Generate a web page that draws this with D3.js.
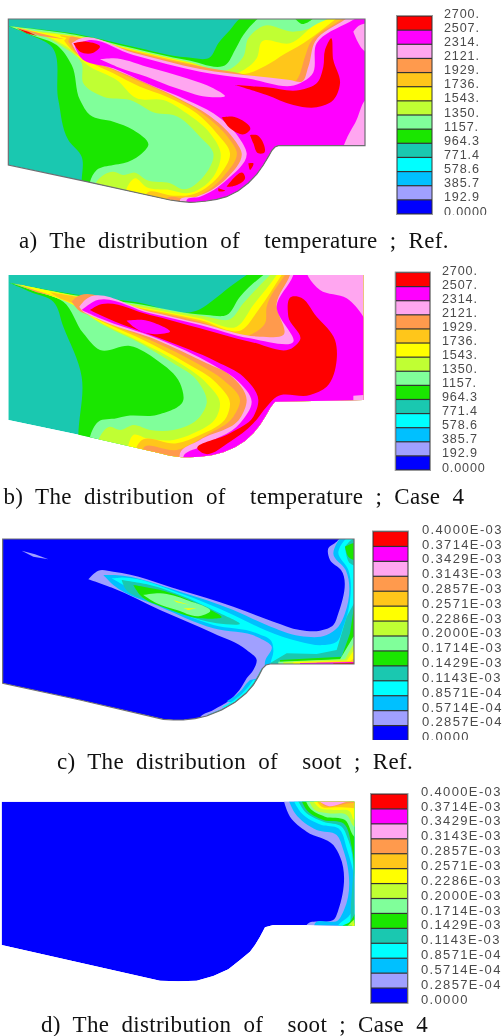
<!DOCTYPE html>
<html><head><meta charset="utf-8">
<script src="https://cdn.jsdelivr.net/npm/d3@7/dist/d3.min.js"></script>
<style>html,body{margin:0;padding:0;background:#fff;overflow:hidden}svg{display:block;filter:blur(0.45px)}</style>
</head><body><div id="chart"></div>
<script>
const levelColors = ["#ff0000","#ff00ff","#ffa6f0","#ff9a4d","#ffc61a","#ffff00","#c0ff33","#80ff9a","#1ae600","#1ac8b0","#00ffff","#00c0ff","#a0a0ff","#0000ff"];
const [RED,MAG,PINK,ORG,GOLD,YEL,LIME,LGRN,GRN,TEAL,CYAN,SKY,PERI,BLUE] = d3.range(14);

const tempLabels = ["2700.","2507.","2314.","2121.","1929.","1736.","1543.","1350.","1157.","964.3","771.4","578.6","385.7","192.9","0.0000"];
const sootLabels = ["0.4000E-03","0.3714E-03","0.3429E-03","0.3143E-03","0.2857E-03","0.2571E-03","0.2286E-03","0.2000E-03","0.1714E-03","0.1429E-03","0.1143E-03","0.8571E-04","0.5714E-04","0.2857E-04","0.0000"];
const captions = [
  "a)  The  distribution  of    temperature  ;  Ref.",
  "b)  The  distribution  of    temperature  ;  Case  4",
  "c)  The  distribution  of    soot  ;  Ref.",
  "d)  The  distribution  of    soot  ;  Case  4"];

// Field coordinates of each panel's domain and iso-bands, hottest bands painted last.
// The first point of a band is a sharp tip; a third element `true` marks a straight-edged strip.
const outlineA = [[25,57],[1095,57],[1095,437],[835,437],[825,441],[815,452],[805,470],[790,495],[770,523],[745,549],[715,572],[680,590],[650,598],[620,603],[590,606],[570,607],[540,604],[510,600],[260,545],[25,495]];
const bandsA = [
 [GRN,[[25,79],[240,104],[400,140],[560,172],[630,172],[655,130],[690,90],[720,55],[740,40],[1200,20],[1200,520],[600,700],[240,600],[245,540],[245,470],[205,420],[175,300],[150,135],[90,105]]],
 [LGRN,[[28,79],[240,107],[400,145],[560,180],[680,192],[705,150],[730,105],[775,55],[795,40],[1200,20],[1200,520],[600,700],[270,600],[270,545],[290,510],[340,495],[370,490],[420,465],[445,435],[400,390],[340,365],[270,345],[240,300],[215,195],[170,135],[100,107]]],
 [GRN,[[880,50],[905,72],[945,50]]],
 [LIME,[[100,92],[240,109],[400,148],[560,184],[695,205],[730,170],[745,115],[790,78],[880,95],[960,72],[990,50],[1010,40],[1200,20],[1200,520],[600,700],[285,600],[288,548],[340,515],[370,525],[405,518],[440,540],[510,550],[550,568],[610,530],[640,460],[600,410],[520,345],[470,340],[390,300],[310,290],[250,250],[245,190],[180,135]]],
 [YEL,[[120,98],[240,111],[400,150],[560,186],[720,216],[770,175],[785,125],[870,130],[945,75],[1000,50],[1020,40],[1200,20],[1200,520],[600,700],[375,600],[380,565],[405,535],[440,562],[510,570],[560,580],[640,530],[662,460],[630,400],[560,340],[490,300],[410,295],[350,240],[270,200],[200,140]]],
 [GOLD,[[180,105],[240,113],[400,152],[560,188],[745,220],[810,190],[840,170],[910,130],[1010,55],[1030,40],[1200,20],[1200,520],[600,700],[430,610],[440,580],[520,587],[570,585],[655,530],[690,460],[650,400],[590,340],[500,290],[420,260],[340,220],[215,150]]],
 [ORG,[[205,125],[210,112],[240,115],[400,155],[560,192],[700,216],[890,240],[915,170],[930,130],[1030,55],[1050,40],[1200,20],[1200,520],[600,700],[500,620],[500,598],[570,595],[670,530],[710,455],[690,420],[620,350],[540,300],[430,250],[340,210],[230,160]]],
 [PINK,[[215,130],[235,118],[400,158],[600,207],[870,240],[905,245],[925,200],[945,125],[1040,55],[1060,40],[1200,20],[1200,520],[600,700],[540,620],[540,600],[590,590],[680,535],[725,460],[700,415],[625,345],[545,300],[440,250],[340,207],[235,163]]],
 [MAG,[[225,140],[250,125],[400,165],[600,215],[740,235],[900,250],[935,225],[950,130],[1050,65],[1100,40],[1200,20],[1200,520],[700,700],[560,620],[560,600],[600,590],[680,540],[740,460],[715,410],[640,340],[560,300],[440,250],[340,205],[240,170]]],
 [PINK,[[1060,95],[1075,78],[1120,70],[1120,170],[1090,150]]],
 [PINK,[[1030,440],[1045,405],[1065,370],[1100,300],[1130,350],[1120,470]]],
 [PINK,[[300,178],[340,175],[440,200],[560,235],[640,265],[675,288],[620,290],[530,265],[440,230],[350,200]]],
 [RED,[[220,130],[260,125],[300,140],[280,158],[240,155]]],
 [RED,[[705,255],[800,262],[900,270],[950,250],[970,200],[975,150],[993,115],[1000,180],[1020,250],[1000,300],[950,322],[880,315],[800,285]]],
 [RED,[[665,352],[700,350],[750,390],[735,402],[690,385]]],
 [RED,[[750,405],[770,405],[790,460],[775,460],[760,430]]],
 [RED,[[745,490],[760,490],[750,510]]],
 [RED,[[680,560],[730,520],[735,530],[690,560]]],
 [RED,[[655,565],[675,572],[655,572]]],
 [YEL,[[35,79],[120,97],[200,113],[190,125],[120,105]],true],
 [ORG,[[45,82],[120,100],[195,118],[120,108]],true],
 [RED,[[50,85],[85,95],[112,108],[80,100]],true]
];

const outlineB = [[25,45],[1090,45],[1090,420],[825,425],[812,442],[797,468],[780,495],[760,520],[735,543],[705,562],[670,577],[635,586],[600,590],[570,592],[545,592],[510,587],[480,580],[240,525],[25,480]];
const bandsB = [
 [GRN,[[28,68],[240,105],[400,125],[600,148],[640,120],[690,80],[740,45],[760,30],[1200,20],[1200,520],[600,700],[235,600],[235,525],[245,350],[190,200],[160,125],[90,95]]],
 [LGRN,[[32,69],[240,108],[400,130],[620,165],[680,165],[720,110],[790,45],[810,30],[1200,20],[1200,520],[600,700],[270,600],[270,530],[295,485],[350,475],[380,468],[470,465],[550,420],[540,370],[470,300],[390,258],[300,270],[250,220],[190,125],[100,92]]],
 [LIME,[[45,71],[240,110],[400,133],[620,170],[690,178],[730,130],[810,45],[825,30],[1200,20],[1200,520],[600,700],[295,600],[295,540],[330,500],[360,510],[400,495],[450,510],[520,510],[600,470],[620,430],[590,360],[520,310],[430,255],[300,190],[210,130],[120,97]]],
 [YEL,[[55,73],[240,111],[400,138],[600,175],[710,200],[760,135],[830,45],[840,30],[1200,20],[1200,520],[600,700],[380,600],[385,555],[400,525],[440,535],[520,540],[580,520],[650,470],[660,430],[620,370],[540,310],[420,245],[280,175],[230,140],[130,100]]],
 [GOLD,[[150,97],[240,112],[400,140],[600,180],[725,210],[775,150],[845,45],[855,30],[1200,20],[1200,520],[600,700],[405,600],[410,560],[420,545],[530,550],[600,525],[680,470],[690,430],[650,370],[560,310],[430,240],[280,170],[220,130],[170,110]]],
 [ORG,[[215,125],[225,115],[400,145],[600,185],[750,225],[795,190],[800,140],[855,45],[865,30],[1200,20],[1200,520],[600,700],[430,600],[430,565],[530,570],[620,525],[700,470],[720,420],[670,360],[600,315],[450,240],[280,170],[235,150]]],
 [PINK,[[238,140],[255,120],[450,155],[600,190],[780,230],[850,225],[830,130],[870,45],[875,30],[1200,20],[1200,520],[600,700],[540,610],[540,580],[600,540],[720,475],[740,420],[690,345],[620,310],[470,240],[290,175],[245,150]]],
 [MAG,[[245,150],[280,125],[450,160],[600,195],[750,235],[880,245],[830,140],[880,45],[885,30],[915,30],[925,50],[960,90],[1040,115],[1090,170],[1110,210],[1200,200],[1200,520],[600,700],[550,610],[550,590],[600,560],[720,490],[755,425],[710,360],[640,315],[470,235],[300,175]]],
 [PINK,[[1060,407],[1090,405],[1120,405],[1120,430],[1060,425]],true],
 [RED,[[270,150],[290,138],[450,165],[600,205],[750,245],[880,262],[900,240],[865,170],[875,110],[895,110],[950,170],[1005,240],[1010,300],[980,380],[930,405],[830,410],[800,440],[760,490],[690,545],[610,580],[595,570],[690,520],[760,470],[775,420],[730,350],[650,305],[480,235],[300,165]]],
 [MAG,[[380,182],[430,180],[510,215],[440,220],[400,200]]],
 [ORG,[[40,70],[110,92],[170,110],[110,97]],true]
];

const outlineC = [[8,87],[1062,87],[1062,462],[810,462],[798,465],[788,475],[775,500],[760,525],[738,550],[705,577],[665,600],[620,618],[585,626],[550,630],[520,630],[490,628],[240,570],[8,520]];
const bandsC = [
 [PERI,[[65,122],[105,133],[145,148],[100,140]],true],
 [PERI,[[265,208],[295,182],[340,185],[540,240],[700,290],[820,335],[900,360],[960,362],[1000,345],[1015,310],[1023,180],[990,150],[985,115],[1010,95],[1030,75],[1100,60],[1100,500],[830,500],[770,570],[690,625],[600,640],[600,624],[640,600],[690,570],[710,550],[725,530],[740,505],[760,480],[770,450],[740,420],[640,370],[480,300],[340,235]]],
 [SKY,[[310,195],[345,195],[540,245],[700,300],[800,345],[900,378],[980,375],[1015,350],[1035,310],[1037,180],[1000,130],[1010,100],[1030,75],[1100,60],[1100,500],[800,500],[795,455],[815,410],[780,385],[640,355],[480,290],[340,225]]],
 [CYAN,[[335,205],[360,203],[540,250],[700,315],[800,362],[900,395],[970,405],[1010,395],[1030,350],[1045,300],[1045,180],[1015,125],[1030,95],[1062,72],[1100,70],[1100,500],[810,500],[812,458],[820,425],[815,395],[770,370],[640,345],[480,280],[370,225]]],
 [TEAL,[[365,210],[450,225],[540,255],[650,305],[720,342],[650,340],[540,310],[450,275],[375,235]]],
 [TEAL,[[812,458],[860,430],[950,432],[1010,420],[1040,320],[1062,280],[1100,280],[1100,490],[820,490]],true],
 [TEAL,[[1035,110],[1062,85],[1100,90],[1100,170],[1050,160]]],
 [GRN,[[400,225],[500,245],[600,285],[665,322],[600,325],[500,295],[420,255]]],
 [GRN,[[1035,110],[1060,100],[1100,100],[1100,150],[1045,140]]],
 [GRN,[[840,450],[1025,440],[1050,370],[1062,290],[1100,290],[1100,490],[840,480]],true],
 [LGRN,[[430,255],[480,250],[560,270],[630,305],[600,318],[530,300],[470,280]]],
 [YEL,[[520,270],[570,285],[530,277]],true],
 [YEL,[[550,295],[590,295],[565,300]],true],
 [LGRN,[[835,455],[1020,448],[1060,380],[1100,380],[1100,490],[835,480]],true],
 [LIME,[[850,456],[1035,448],[1062,400],[1100,400],[1100,490],[850,480]],true],
 [YEL,[[880,456],[1040,452],[1062,420],[1100,420],[1100,490],[880,480]],true],
 [GOLD,[[950,457],[1050,454],[1070,440],[1100,440],[1100,490],[950,480]],true],
 [MAG,[[900,459],[1062,456],[1100,456],[1100,490],[900,480]],true],
 [RED,[[1000,460],[1062,458],[1100,458],[1100,490],[1000,480]],true],
 [SKY,[[680,574],[705,558],[725,540],[738,522],[750,510],[800,500],[740,590]],true],
 [CYAN,[[665,592],[700,572],[725,552],[745,530],[760,510],[800,520],[740,600]],true],
 [TEAL,[[620,616],[665,597],[705,575],[740,546],[765,512],[785,475],[830,520],[740,610],[640,640]],true]
];

const outlineD = [[5,95],[1063,95],[1063,467],[910,465],[820,465],[795,472],[780,500],[765,525],[750,545],[720,570],[685,598],[640,618],[590,632],[535,634],[480,632],[5,525]];
const bandsD = [
 [PERI,[[848,80],[870,140],[920,185],[1000,225],[1020,260],[1015,420],[1005,445],[920,465],[910,490],[1100,490],[1100,80]]],
 [SKY,[[862,80],[885,130],[950,180],[1010,195],[1030,240],[1032,420],[1015,450],[945,460],[940,490],[1100,490],[1100,80]]],
 [CYAN,[[875,80],[905,130],[965,165],[1015,175],[1040,235],[1045,440],[1015,465],[1005,490],[1100,490],[1100,80]]],
 [TEAL,[[888,80],[915,125],[970,155],[1025,170],[1045,210],[1052,420],[1050,460],[1040,490],[1100,490],[1100,80]]],
 [GRN,[[900,80],[920,120],[970,150],[1030,160],[1055,230],[1063,300],[1060,440],[1050,455],[1025,470],[1020,490],[1100,490],[1100,80]]],
 [LGRN,[[912,80],[930,115],[975,140],[1035,150],[1063,200],[1100,220],[1100,80]]],
 [LIME,[[922,80],[945,120],[985,130],[1040,135],[1063,170],[1100,180],[1100,80]]],
 [YEL,[[932,80],[960,115],[1000,120],[1050,125],[1063,150],[1100,150],[1100,80]]],
 [GOLD,[[942,80],[965,110],[1010,112],[1063,115],[1100,125],[1100,80]]],
 [ORG,[[950,80],[975,108],[1020,105],[1063,100],[1100,125],[1100,80]]],
 [PINK,[[945,85],[985,108],[1035,97],[1063,85],[1063,80]]],
 [LIME,[[1030,480],[1063,448],[1100,440],[1100,490]],true],
 [YEL,[[1045,480],[1063,458],[1100,450],[1100,490]],true]
];

const panels = [
 {outline:outlineA,bands:bandsA,base:TEAL,ox:0,oy:0,framed:true},
 {outline:outlineB,bands:bandsB,base:TEAL,ox:0,oy:260,framed:false},
 {outline:outlineC,bands:bandsC,base:BLUE,ox:0,oy:510,framed:true},
 {outline:outlineD,bands:bandsD,base:BLUE,ox:0,oy:770,framed:false}
];
const legends = [
 {labels:tempLabels,x0:397,x1:432,y0:16,y1:214,tx:444,ty0:13,ty1:211,clip:215,size:12.6,ls:0.85},
 {labels:tempLabels,x0:395.7,x1:430,y0:272.5,y1:470,tx:442,ty0:270,ty1:467,clip:480,size:12.6,ls:0.85},
 {labels:sootLabels,x0:373,x1:408,y0:531.5,y1:740.5,tx:422,ty0:529,ty1:736.5,clip:740,size:13,ls:1.35},
 {labels:sootLabels,x0:371,x1:407.5,y0:794,y1:1003,tx:421,ty0:791,ty1:999,clip:1010,size:13,ls:1.35}
];
const captionPos = [[19,248],[3.5,504],[57,769],[41,1031.5]];

const W=503,H=1036;
const svg=d3.select("#chart").append("svg").attr("width",W).attr("height",H).attr("viewBox",[0,0,W,H]);
const defs=svg.append("defs");

panels.forEach((p,i)=>{
  const x=d3.scaleLinear().domain([0,1140]).range([p.ox,p.ox+380]);
  const y=d3.scaleLinear().domain([0,780]).range([p.oy,p.oy+260]);
  const edge=d3.line().x(d=>x(d[0])).y(d=>y(d[1])).curve(d3.curveLinearClosed);
  const iso=d3.line().x(d=>x(d[0])).y(d=>y(d[1])).curve(d3.curveCatmullRomClosed.alpha(1));
  defs.append("clipPath").attr("id","dom"+i).append("path").attr("d",edge(p.outline));
  const g=svg.append("g").attr("clip-path",`url(#dom${i})`);
  g.append("path").attr("d",edge(p.outline)).attr("fill",levelColors[p.base]);
  g.selectAll("path.band").data(p.bands).join("path").attr("class","band")
    .attr("d",d=>d[2]?edge(d[1]):iso([d[1][0],...d[1]])).attr("fill",d=>levelColors[d[0]]);
  if(p.framed) svg.append("path").attr("d",edge(p.outline)).attr("fill","none").attr("stroke","#6e6e72").attr("stroke-width",1.2);
});

legends.forEach((l,i)=>{
  defs.append("clipPath").attr("id","leg"+i).append("rect").attr("x",l.x0-4).attr("y",l.y0-40).attr("width",W-l.x0+4).attr("height",l.clip-l.y0+40);
  const g=svg.append("g").attr("clip-path",`url(#leg${i})`);
  const band=d3.scaleBand().domain(d3.range(14)).range([l.y0,l.y1]);
  g.append("rect").attr("x",l.x0-0.5).attr("y",l.y0-0.5).attr("width",l.x1-l.x0+1).attr("height",l.y1-l.y0+1).attr("fill","#333").attr("stroke","#999").attr("stroke-width",1);
  g.selectAll("rect.box").data(levelColors).join("rect").attr("class","box")
    .attr("x",l.x0+0.5).attr("width",l.x1-l.x0-1)
    .attr("y",(d,k)=>band(k)+0.6).attr("height",band.bandwidth()-1.2).attr("fill",d=>d);
  const ty=d3.scaleLinear().domain([0,14]).range([l.ty0,l.ty1]);
  g.selectAll("text").data(l.labels).join("text")
    .attr("x",l.tx).attr("y",(d,k)=>ty(k)).attr("dy","0.36em")
    .attr("font-family","'Liberation Sans',Arial,sans-serif").attr("font-size",l.size)
    .attr("letter-spacing",l.ls).attr("fill","#4a4a4a").text(d=>d);
});

svg.selectAll("text.cap").data(captions).join("text").attr("class","cap")
  .attr("x",(d,i)=>captionPos[i][0]).attr("y",(d,i)=>captionPos[i][1])
  .attr("font-family","'Liberation Serif','Times New Roman',serif").attr("font-size",23)
  .attr("letter-spacing",0.32).style("white-space","pre").attr("fill","#111").text(d=>d);
</script></body></html>
